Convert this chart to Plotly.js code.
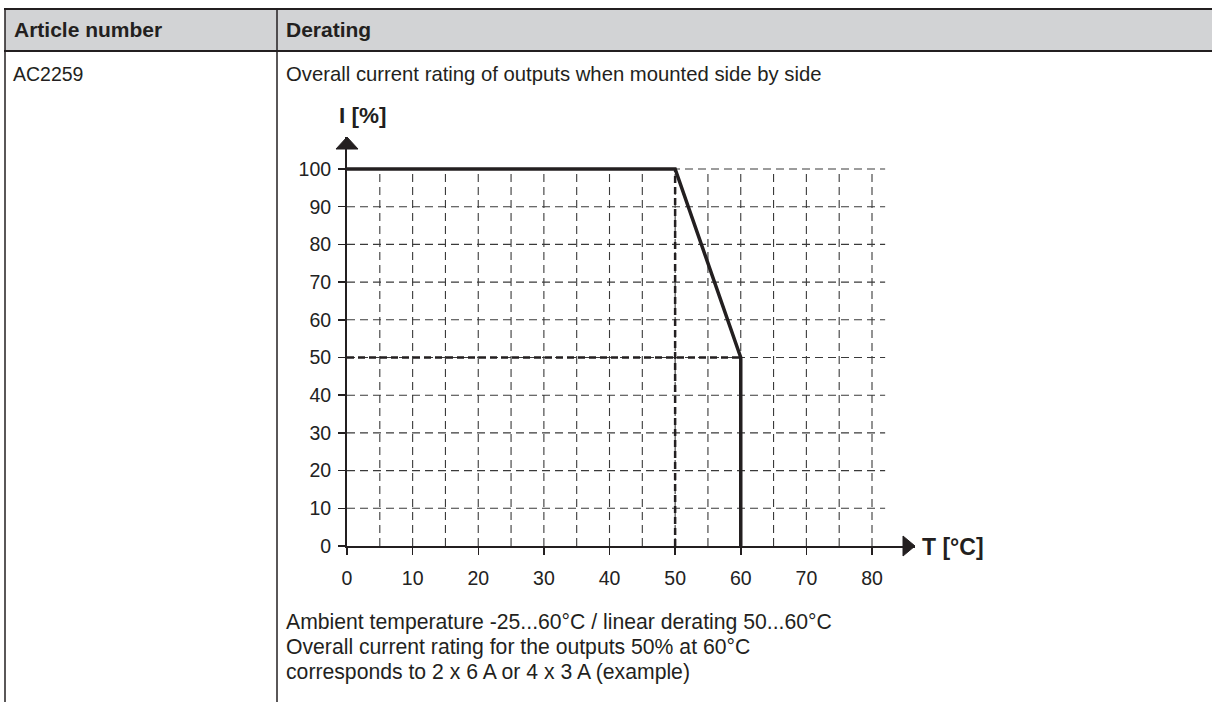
<!DOCTYPE html>
<html>
<head>
<meta charset="utf-8">
<script src="https://cdn.plot.ly/plotly-3.0.1.min.js"></script>
<style>
html,body{margin:0;padding:0;background:#fff;}
#chart{width:1212px;height:702px;}
</style>
</head>
<body>
<div id="chart"></div>
<script>
// ---- data ----
const tempC = [0, 50, 60, 60];
const currentPct = [100, 100, 50, 0];
const kneeTempX = [50, 50];
const kneeTempY = [0, 100];
const halfCurX = [0, 60];
const halfCurY = [50, 50];
const xTicks = [0, 10, 20, 30, 40, 50, 60, 70, 80];
const yTicks = [0, 10, 20, 30, 40, 50, 60, 70, 80, 90, 100];
const xGridVals = [5, 10, 15, 20, 25, 30, 35, 40, 45, 50, 55, 60, 65, 70, 75, 80];
const yGridVals = [10, 20, 30, 40, 50, 60, 70, 80, 90, 100];
const gridXEnd = 82;
const gridYEnd = 100;
const headerCols = ["Article number", "Derating"];
const articleNumber = "AC2259";
const chartHeading = "Overall current rating of outputs when mounted side by side";
const captionLines = [
  "Ambient temperature -25...60°C / linear derating 50...60°C",
  "Overall current rating for the outputs 50% at 60°C",
  "corresponds to 2 x 6 A or 4 x 3 A (example)"
];
const yAxisLabel = "I [%]";
const xAxisLabel = "T [°C]";

// ---- layout geometry (pixels) ----
const W = 1212, H = 702;
const plotL = 347, plotR = 915, plotT = 137, plotB = 546;
const pxPerX = 6.5625, pxPerY = 3.77;
const xMax = (plotR - plotL) / pxPerX;
const yMax = (plotB - plotT) / pxPerY;
const px = p => (p - plotL) / (plotR - plotL);
const py = p => (plotB - p) / (plotB - plotT);

const FONT = "Liberation Sans, Arial, Helvetica, sans-serif";
const INK = "#231f20";

// grid traces built from the grid value arrays
const gvx = [], gvy = [];
xGridVals.forEach(v => { gvx.push(v, v, null); gvy.push(0, gridYEnd, null); });
const ghx = [], ghy = [];
yGridVals.forEach(v => { ghx.push(0, gridXEnd, null); ghy.push(v, v, null); });

const traces = [
  {x: gvx, y: gvy, mode: "lines", line: {color: "#3a3a3a", width: 1.1, dash: "8px,5px"}, hoverinfo: "skip", showlegend: false},
  {x: ghx, y: ghy, mode: "lines", line: {color: "#3a3a3a", width: 1.1, dash: "8px,5px"}, hoverinfo: "skip", showlegend: false},
  {x: kneeTempX, y: kneeTempY, mode: "lines", line: {color: INK, width: 2.5, dash: "7px,4px"}, hoverinfo: "skip", showlegend: false},
  {x: halfCurX, y: halfCurY, mode: "lines", line: {color: INK, width: 2.5, dash: "7px,4px"}, hoverinfo: "skip", showlegend: false},
  {x: tempC, y: currentPct, mode: "lines", line: {color: INK, width: 3.5}, cliponaxis: false, showlegend: false}
];

const shapes = [
  // header band
  {type: "rect", xref: "paper", yref: "paper", x0: px(5), x1: px(W), y0: py(51), y1: py(9), fillcolor: "#d2d3d5", line: {width: 0}, layer: "below"},
  {type: "line", xref: "paper", yref: "paper", x0: px(4), x1: px(W), y0: py(9), y1: py(9), line: {color: INK, width: 2}},
  {type: "line", xref: "paper", yref: "paper", x0: px(4), x1: px(W), y0: py(51), y1: py(51), line: {color: INK, width: 2}},
  {type: "line", xref: "paper", yref: "paper", x0: px(5), x1: px(5), y0: py(8), y1: py(H), line: {color: INK, width: 1.5}},
  {type: "line", xref: "paper", yref: "paper", x0: px(277), x1: px(277), y0: py(8), y1: py(H), line: {color: INK, width: 1.5}},
  // axis arrowheads
  {type: "path", xref: "paper", yref: "paper",
   path: `M ${px(336)} ${py(149)} L ${px(347)} ${py(137)} L ${px(358)} ${py(149)} Z`,
   fillcolor: INK, line: {color: INK, width: 1}},
  {type: "path", xref: "paper", yref: "paper",
   path: `M ${px(903)} ${py(536)} L ${px(915)} ${py(546)} L ${px(903)} ${py(556)} Z`,
   fillcolor: INK, line: {color: INK, width: 1}}
];

const ann = (text, xp, yp, size, bold, anchor) => ({
  text: bold ? "<b>" + text + "</b>" : text,
  xref: "paper", yref: "paper", x: px(xp), y: py(yp),
  xanchor: anchor || "left", yanchor: "middle", showarrow: false,
  font: {family: FONT, size: size, color: INK}
});

const annotations = [
  ann(headerCols[0], 12, 30, 21, true),
  ann(headerCols[1], 284, 30, 21, true),
  ann(articleNumber, 11, 74, 19.5, false),
  ann(chartHeading, 284, 74, 20.3, false),
  ann(yAxisLabel, 337, 116, 22.5, true),
  ann(xAxisLabel, 920, 547, 23, true),
  ann(captionLines[0], 284, 622, 21.2, false),
  ann(captionLines[1], 284, 647, 21.2, false),
  ann(captionLines[2], 284, 672, 21.2, false)
];

const layout = {
  width: W, height: H,
  margin: {l: plotL, r: W - plotR, t: plotT, b: H - plotB, pad: 0},
  paper_bgcolor: "#ffffff", plot_bgcolor: "rgba(0,0,0,0)",
  showlegend: false,
  font: {family: FONT, color: INK},
  xaxis: {
    range: [0, xMax], tickvals: xTicks, ticktext: xTicks.map(String),
    showgrid: false, zeroline: false, showline: true, linecolor: INK, linewidth: 2,
    ticks: "outside", ticklen: 7, tickwidth: 1.5, tickcolor: INK,
    tickfont: {family: FONT, size: 19.5, color: "#222"}, ticklabelstandoff: 7,
    fixedrange: true
  },
  yaxis: {
    range: [0, yMax], tickvals: yTicks, ticktext: yTicks.map(String),
    showgrid: false, zeroline: false, showline: true, linecolor: INK, linewidth: 2,
    ticks: "outside", ticklen: 7, tickwidth: 1.5, tickcolor: INK,
    tickfont: {family: FONT, size: 19.5, color: "#222"}, ticklabelstandoff: 3,
    fixedrange: true
  },
  shapes: shapes,
  annotations: annotations
};

Plotly.newPlot("chart", traces, layout, {staticPlot: true, displayModeBar: false});
</script>
</body>
</html>
